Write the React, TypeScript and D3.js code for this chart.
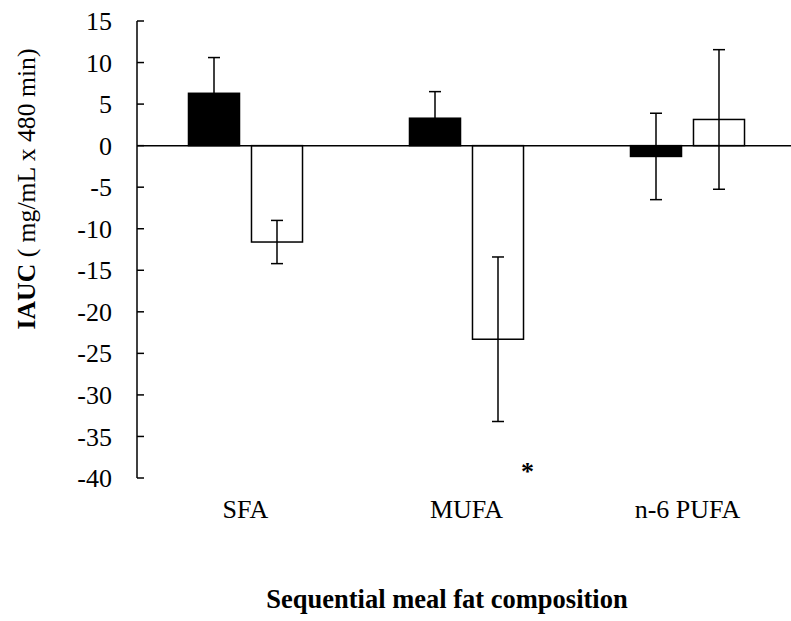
import React from "react";
import * as d3 from "d3";

// Fat composition of the sequential meal
const categories = ["SFA", "MUFA", "n-6 PUFA"];
const seriesKeys = ["first", "second"];
// Mean IAUC per category (mg/mL x 480 min)
const firstMeans = [6.3, 3.3, -1.3];
const secondMeans = [-11.6, -23.3, 3.15];
// Error bar half-lengths
const firstErrors = [4.3, 3.2, 5.2];
const secondErrors = [2.6, 9.9, 8.4];
const seriesFill = ["#000000", "#ffffff"];
const yTicks = [15, 10, 5, 0, -5, -10, -15, -20, -25, -30, -35, -40];
// Significance marker sits under the MUFA group
const markerCategory = "MUFA";
const markerValue = -40.2;

const W = 791;
const H = 621;
const FONT = "'Liberation Serif', 'Times New Roman', serif";

export default function App() {
  const y = d3.scaleLinear().domain([-40, 15]).range([478, 21]);
  const x0 = d3.scaleBand<string>().domain(categories).range([135, 798]).padding(0);
  const x1 = d3
    .scaleBand<string>()
    .domain(seriesKeys)
    .range([0, x0.bandwidth()])
    .paddingInner(0.19)
    .paddingOuter(0.849);

  const axisX = 137;
  const series = [
    { key: seriesKeys[0], means: firstMeans, errs: firstErrors, fill: seriesFill[0] },
    { key: seriesKeys[1], means: secondMeans, errs: secondErrors, fill: seriesFill[1] },
  ];
  const cap = 6;

  return (
    <svg
      width={W}
      height={H}
      style={{ position: "absolute", left: 0, top: 0, background: "#fff" }}
      fontFamily={FONT}
    >
      {/* bars */}
      {series.map((s) =>
        categories.map((c, i) => {
          const v = s.means[i];
          const bx = (x0(c) ?? 0) + (x1(s.key) ?? 0);
          const top = y(Math.max(0, v));
          const bottom = y(Math.min(0, v));
          return (
            <rect
              key={`${s.key}-${c}`}
              x={bx}
              y={top}
              width={x1.bandwidth()}
              height={bottom - top}
              fill={s.fill}
              stroke="#000"
              strokeWidth={1.5}
            />
          );
        })
      )}

      {/* zero line */}
      <line x1={axisX} x2={W} y1={y(0)} y2={y(0)} stroke="#000" strokeWidth={1.5} />

      {/* error bars */}
      {series.map((s) =>
        categories.map((c, i) => {
          const cx = (x0(c) ?? 0) + (x1(s.key) ?? 0) + x1.bandwidth() / 2;
          const hi = y(s.means[i] + s.errs[i]);
          const lo = y(s.means[i] - s.errs[i]);
          return (
            <g key={`err-${s.key}-${c}`} stroke="#000" strokeWidth={1.5}>
              <line x1={cx} x2={cx} y1={hi} y2={lo} />
              <line x1={cx - cap} x2={cx + cap} y1={hi} y2={hi} />
              <line x1={cx - cap} x2={cx + cap} y1={lo} y2={lo} />
            </g>
          );
        })
      )}

      {/* y axis */}
      <line x1={axisX} x2={axisX} y1={y(15)} y2={y(-40)} stroke="#000" strokeWidth={1.5} />
      {yTicks.map((t) => (
        <g key={t}>
          <line x1={axisX} x2={axisX + 7} y1={y(t)} y2={y(t)} stroke="#000" strokeWidth={1.5} />
          <text x={112} y={y(t)} dy="0.35em" textAnchor="end" fontSize={26} fill="#000">
            {t}
          </text>
        </g>
      ))}

      {/* category labels */}
      {categories.map((c) => (
        <text
          key={c}
          x={(x0(c) ?? 0) + x0.bandwidth() / 2}
          y={518}
          textAnchor="middle"
          fontSize={26}
          fill="#000"
        >
          {c}
        </text>
      ))}

      {/* significance marker */}
      <text
        x={(x0(markerCategory) ?? 0) + (x1(seriesKeys[1]) ?? 0) + x1.bandwidth() + 4}
        y={y(markerValue)}
        textAnchor="middle"
        fontSize={26}
        fontWeight="bold"
        fill="#000"
      >
        *
      </text>

      {/* axis titles */}
      <text x={447} y={608} textAnchor="middle" fontSize={26.5} fontWeight="bold" fill="#000">
        Sequential meal fat composition
      </text>
      <text
        transform="translate(35,189) rotate(-90)"
        textAnchor="middle"
        fontSize={25.7}
        fill="#000"
      >
        <tspan fontWeight="bold">IAUC</tspan>
        <tspan> ( mg/mL x 480 min)</tspan>
      </text>
    </svg>
  );
}
